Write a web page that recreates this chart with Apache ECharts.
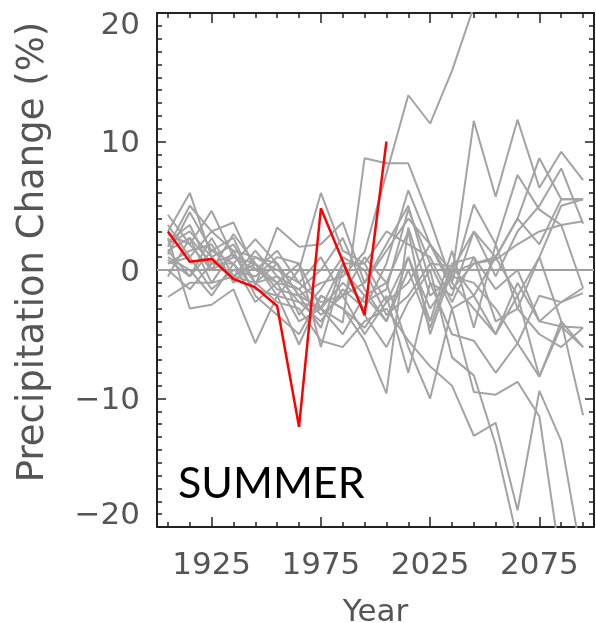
<!DOCTYPE html>
<html>
<head>
<meta charset="utf-8">
<script src="https://cdn.jsdelivr.net/npm/echarts@6/dist/echarts.min.js"></script>
<style>
html,body{margin:0;padding:0;background:#fff;}
#chart{width:596px;height:623px;}
</style>
</head>
<body>
<div id="chart"></div>
<script>
// Years of the decadal values
var years = [1905,1915,1925,1935,1945,1955,1965,1975,1985,1995,2005,2015,2025,2035,2045,2055,2065,2075,2085,2095];
var xLabelYears = [1925,1975,2025,2075];
var xMinorTickYears = [1905,1915,1925,1935,1945,1955,1965,1975,1985,1995,2005,2015,2025,2035,2045,2055,2065,2075,2085,2095];

// Observed (red) series
var observed = [3.0,0.65,0.86,-0.7,-1.35,-2.8,-12.2,4.8,0.7,-3.5,10.0];

// Model (grey) series
var g1  = [1.5,2.5,0.5,1.2,-1.0,0.5,-2.0,-1.0,-0.5,1.4,7.5,13.6,11.4,15.5,20.5,25,27,30,30,30];
var g2  = [0.8,-0.5,1.5,0.5,-1.5,-2.0,-2.5,-3.0,-4.1,8.7,8.3,8.3,3.9,-1.0,-3.0,-5.0,-2.0,-8.3,-4.4,-6.0];
var g3  = [2.0,3.0,1.0,-0.5,0.5,-1.0,-1.5,-3.5,-2.0,-5.0,-2.5,1.0,-3.0,-0.5,11.6,5.7,11.7,6.4,9.2,7.0];
var g4  = [3.0,6.0,1.0,2.0,-1.0,-0.5,-2.5,-4.0,-1.5,-3.0,0.5,6.2,2.0,-1.0,5.1,2.0,7.4,4.7,3.5,-1.4];
var g5  = [4.3,2.0,4.6,1.0,0.5,-1.5,-2.0,-3.0,-1.0,-2.5,-1.5,4.7,0.5,-3.0,-2.0,1.0,4.0,8.7,5.5,5.5];
var g6  = [2.5,-3.0,-2.7,-1.5,-5.7,-2.0,-5.8,-2.0,-3.0,-5.5,-9.6,3.3,-2.0,-0.5,-1.0,-3.0,-5.7,-2.0,-2.5,-1.8];
var g7  = [-2.1,-1.0,-1.0,-0.5,-1.0,-2.5,-3.0,-5.5,-6.0,-4.0,-3.0,-5.5,-7.5,-9.0,-12.9,-11.9,-18.7,-9.4,-13.3,-23];
var g8  = [1.0,0.0,-2.0,0.5,-2.5,-1.0,-4.0,-3.0,-5.0,-2.0,-1.0,-6.0,-10.0,-3.0,-9.5,-9.7,-8.7,-11.4,-23,-25];
var g9  = [0.5,1.5,2.0,-1.0,1.0,0.5,-2.0,-4.5,0.5,-3.5,-6.0,-2.5,0.0,-6.8,-8.2,-13.6,-21,-25,-25,-25];
var g10 = [3.5,1.0,3.0,3.7,0.0,-1.0,0.5,-6.0,0.0,-2.0,-4.0,1.0,-4.0,1.5,-4.5,2.0,-3.0,1.0,-4.0,-11.3];
var g11 = [1.2,4.5,1.5,2.5,-1.2,3.3,1.8,2.0,3.7,-1.0,2.0,5.0,-1.0,-2.0,3.0,-0.5,3.0,5.0,7.9,3.6];
var g12 = [0.0,-1.5,0.5,0.5,2.4,0.5,-3.5,-1.5,1.0,0.0,-3.5,-2.0,0.5,0.3,-2.0,-5.0,-1.0,-4.0,-4.4,-4.5];
var g13 = [1.8,5.0,3.0,1.5,1.0,0.0,-1.0,-2.5,-2.0,-1.0,1.5,4.0,2.0,-1.5,0.5,1.0,4.0,2.0,5.5,5.5];
var g14 = [2.2,3.5,0.0,2.8,0.5,-2.0,0.0,6.0,1.5,0.5,3.0,2.0,1.0,-2.5,1.0,-1.5,0.0,-4.0,-2.5,-1.4];
var g15 = [-0.5,2.5,-1.0,1.5,-2.0,-3.5,-5.0,-2.0,-3.0,-4.5,-2.0,-8.0,-1.0,-5.0,-5.5,-8.0,-5.7,-8.3,-4.0,-6.0];
var g16 = [1.5,-0.5,2.5,-0.5,1.5,-0.5,-1.5,0.0,2.5,-1.5,-4.0,0.0,-4.5,0.5,1.0,-4.0,-3.0,-5.0,-6.0,-4.5];
var g17 = [0.5,1.0,-1.5,0.0,-0.5,1.0,0.5,-3.0,0.5,0.5,-2.5,-1.0,2.0,-0.2,0.5,0.8,2.0,3.0,3.5,3.8];
var g18 = [2.8,2.0,0.0,1.0,0.0,1.5,-1.0,1.0,-2.0,1.0,-1.0,3.0,-5.0,0.0,3.0,1.0,-2.0,1.0,5.0,5.5];
var models = [g1,g2,g3,g4,g5,g6,g7,g8,g9,g10,g11,g12,g13,g14,g15,g16,g17,g18];

var yMin = -20, yMax = 20, yInterval = 10;
var xMin = 1900, xMax = 2100;

function pairs(vals){
  var out = [];
  for (var i = 0; i < vals.length; i++) out.push([years[i], vals[i]]);
  return out;
}

var axisColor = '#222';
var labelColor = '#555';
var fontFam = 'DejaVu Sans';

var series = [];
models.forEach(function(m, i){
  var s = {
    type: 'line', data: pairs(m), symbol: 'none', showSymbol: false,
    lineStyle: {color: '#a3a3a3', width: 2}, silent: true, z: 2, clip: true
  };
  if (i === 0) {
    s.markLine = {
      silent: true, symbol: 'none', label: {show: false},
      lineStyle: {color: '#a0a0a0', type: 'solid', width: 2},
      data: [{yAxis: 0}]
    };
  }
  series.push(s);
});
series.push({
  type: 'line', data: pairs(observed), symbol: 'none', showSymbol: false,
  lineStyle: {color: '#ff0000', width: 2.5}, silent: true, z: 5, clip: true
});

function xAxisDef(pos, ticks, len, showLine, labels){
  return {
    type: 'value', position: pos, min: xMin, max: xMax,
    axisLine: {show: showLine, onZero: false, lineStyle: {color: axisColor, width: 2}},
    axisTick: {show: true, inside: true, length: len, customValues: ticks, lineStyle: {color: axisColor, width: 1.5}},
    axisLabel: labels ? {show: true, customValues: labels, margin: 23, fontSize: 31, color: labelColor, fontFamily: fontFam,
      formatter: function(v){ return String(Math.round(v)); }} : {show: false},
    splitLine: {show: false}
  };
}

var yLabelText = {fontSize: 31, color: labelColor, fontFamily: fontFam};

var option = {
  animation: false,
  backgroundColor: '#fff',
  grid: {left: 157, right: 2, top: 13, bottom: 96, containLabel: false, outerBoundsMode: 'none'},
  xAxis: [
    Object.assign(xAxisDef('bottom', xLabelYears, 10, true, xLabelYears), {
      name: 'Year', nameLocation: 'middle', nameGap: 70,
      nameTextStyle: {fontSize: 31, color: labelColor, fontFamily: fontFam}
    }),
    xAxisDef('bottom', xMinorTickYears, 5, false, null),
    xAxisDef('top', xLabelYears, 10, true, null),
    xAxisDef('top', xMinorTickYears, 5, false, null)
  ],
  yAxis: [
    {
      type: 'value', position: 'left', min: yMin, max: yMax, interval: yInterval,
      axisLine: {show: true, onZero: false, lineStyle: {color: axisColor, width: 2}},
      axisTick: {show: true, inside: true, length: 9, lineStyle: {color: axisColor, width: 1.5}},
      minorTick: {show: true, splitNumber: 10, length: 5, lineStyle: {color: axisColor, width: 1.5}},
      axisLabel: {margin: 17, fontSize: 31, color: labelColor, fontFamily: fontFam,
        formatter: function(v){
          var t = String(v).replace('-', '\u2212');
          if (v === yMax) return '{mx|' + t + '}';
          if (v === yMin) return '{mn|' + t + '}';
          return '{n|' + t + '}';
        },
        rich: {
          mx: Object.assign({padding: [26, 0, 0, 0]}, yLabelText),
          mn: Object.assign({padding: [0, 0, 22, 0]}, yLabelText),
          n: Object.assign({padding: [5, 0, 0, 0]}, yLabelText)
        }},
      splitLine: {show: false}
    },
    {
      type: 'value', position: 'right', min: yMin, max: yMax, interval: yInterval,
      axisLine: {show: true, onZero: false, lineStyle: {color: axisColor, width: 2}},
      axisTick: {show: true, inside: true, length: 9, lineStyle: {color: axisColor, width: 1.5}},
      minorTick: {show: true, splitNumber: 10, length: 5, lineStyle: {color: axisColor, width: 1.5}},
      axisLabel: {show: false},
      splitLine: {show: false}
    }
  ],
  graphic: [
    {
      type: 'text', x: 33, y: 252, rotation: Math.PI / 2,
      style: {text: 'Precipitation Change (%)', fontSize: 37, fontFamily: fontFam, fill: labelColor,
        align: 'center', verticalAlign: 'middle'}
    },
    {
      type: 'text', x: 178, y: 463,
      style: {text: 'SUMMER', fontSize: 43, fontFamily: 'Lato', fill: '#000', align: 'left', verticalAlign: 'top'}
    }
  ],
  series: series
};

var chart = echarts.init(document.getElementById('chart'), null, {renderer: 'canvas'});
chart.setOption(option);
</script>
</body>
</html>
